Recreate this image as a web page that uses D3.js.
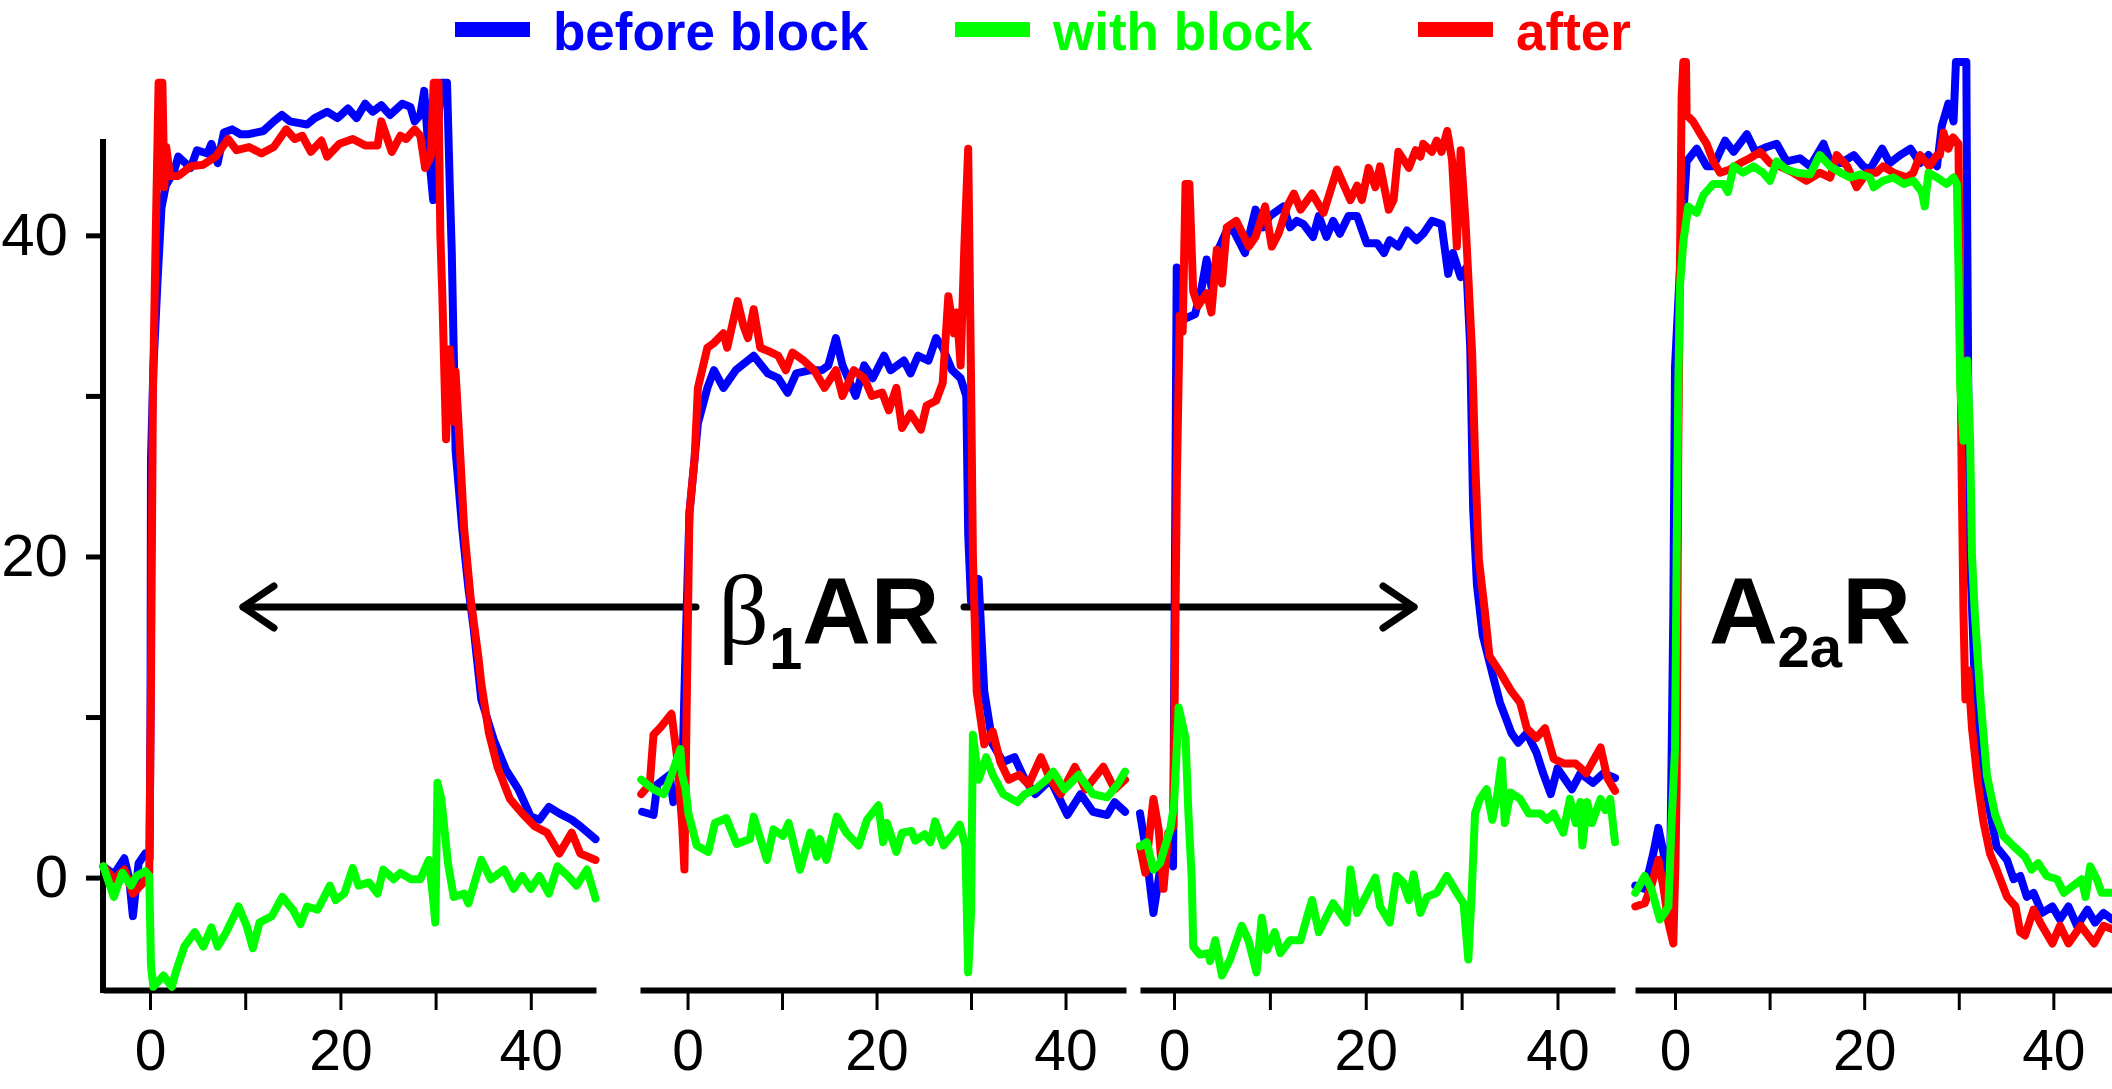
<!DOCTYPE html>
<html>
<head>
<meta charset="utf-8">
<script src="https://cdn.jsdelivr.net/npm/d3@7"></script>
<style>
  html, body { margin: 0; padding: 0; background: #ffffff; }
  svg { display: block; }
</style>
</head>
<body>
<script>
// ---------------- DATA ----------------
const seriesNames = ["before block", "with block", "after"];
const seriesColors = ["#0000ff", "#00ff00", "#ff0000"];
const xTickValues = [0, 10, 20, 30, 40];
const xTickLabels = [0, 20, 40];
const yTickValues = [0, 10, 20, 30, 40];
const yTickLabels = [0, 20, 40];
const receptorLabels = ["β1AR", "A2aR"];

// Panel 1 (β1AR)
const p1Blue = [[-4.9,0.7],[-3.8,0.2],[-2.7,1.2],[-2.2,0.0],[-1.8,-2.4],[-1.2,0.9],[-0.5,1.5],[-0.05,1.2],[0.05,10],[0.1,26],[0.35,31.7],[0.8,37.3],[1.2,41.7],[1.66,43.1],[2.53,44.0],[2.97,44.9],[4.27,44.2],[4.93,45.3],[6.02,45.1],[6.45,45.7],[7.1,44.5],[7.76,46.4],[8.63,46.6],[9.5,46.3],[10.37,46.3],[11.9,46.5],[13.0,47.1],[13.85,47.5],[14.7,47.1],[16.5,46.9],[17.3,47.3],[18.6,47.7],[19.7,47.3],[20.8,47.9],[21.7,47.3],[22.6,48.2],[23.4,47.7],[24.3,48.1],[25.2,47.5],[26.5,48.2],[27.35,48.0],[27.8,47.1],[28.4,47.5],[28.8,49.0],[29.3,45.0],[29.75,42.2],[30.2,46.5],[30.6,49.5],[31.2,49.5],[31.5,42.9],[31.7,38.9],[31.9,32.9],[32.1,26.6],[32.8,21.7],[33.45,18.0],[34.0,15.5],[34.8,11.1],[36.1,8.6],[37.4,6.7],[38.7,5.5],[40.0,3.8],[40.9,3.6],[41.9,4.4],[43.0,4.0],[44.3,3.6],[45.2,3.2],[46.8,2.4]];
const p1Red = [[-4.9,0.7],[-3.8,-0.1],[-2.7,0.5],[-1.8,-1.0],[-0.7,-0.3],[-0.08,0.3],[0.1,12],[0.3,30],[0.6,40],[0.9,49.5],[1.3,49.5],[1.5,43.0],[1.7,45.5],[2.1,43.7],[2.97,43.7],[4.3,44.3],[5.6,44.4],[6.9,44.9],[8.2,46.0],[9.1,45.3],[10.4,45.5],[11.7,45.1],[13.0,45.5],[14.3,46.6],[15.2,46.0],[16.0,46.2],[16.9,45.2],[18.0,45.9],[18.6,44.9],[19.9,45.7],[21.3,46.0],[22.6,45.6],[23.9,45.6],[24.3,47.1],[25.4,45.2],[26.3,46.2],[26.9,46.0],[27.8,46.6],[28.4,46.2],[28.9,44.2],[29.5,44.9],[29.8,49.5],[30.3,49.5],[30.5,40.0],[30.7,36.4],[31.1,27.3],[31.5,32.9],[31.9,28.4],[32.1,31.5],[32.6,26.2],[33.0,21.7],[33.7,17.3],[34.5,13.7],[34.8,12.1],[35.6,9.0],[36.5,6.9],[37.8,4.9],[39.1,4.0],[40.4,3.2],[41.7,2.8],[43.0,1.5],[44.3,2.8],[45.2,1.5],[46.8,1.1]];
const p1Green = [[-4.9,0.7],[-3.8,-1.2],[-2.9,0.3],[-2.0,-0.5],[-1.4,0.1],[-0.5,0.4],[-0.08,0.1],[0.1,-5.5],[0.35,-6.8],[1.4,-6.1],[2.3,-6.8],[2.7,-5.9],[3.6,-4.3],[4.7,-3.4],[5.6,-4.3],[6.45,-3.1],[7.1,-4.3],[8.0,-3.4],[9.3,-1.8],[10.15,-3.0],[10.8,-4.4],[11.5,-2.8],[12.8,-2.4],[13.9,-1.2],[15.0,-2.0],[15.8,-2.9],[16.5,-1.8],[17.6,-2.0],[18.9,-0.5],[19.5,-1.4],[20.4,-1.0],[21.3,0.6],[21.9,-0.5],[23.0,-0.3],[23.9,-1.0],[24.5,0.5],[25.6,-0.1],[26.3,0.3],[27.4,-0.1],[28.4,-0.1],[29.3,1.1],[29.75,-1.4],[29.97,-2.8],[30.2,5.9],[30.6,4.9],[31.3,0.9],[31.9,-1.2],[33.0,-1.0],[33.45,-1.6],[34.8,1.1],[35.8,-0.1],[37.2,0.5],[38.2,-0.7],[39.1,0.1],[40.0,-0.7],[40.9,0.1],[41.9,-1.0],[42.8,0.7],[43.9,0.1],[44.8,-0.5],[45.9,0.5],[46.8,-1.3]];

// Panel 2 (β1AR)
const p2Blue = [[-4.8,4.1],[-3.6,3.9],[-3.2,5.8],[-1.9,6.4],[-1.5,4.7],[-0.57,6.1],[-0.2,14.4],[0.2,22.7],[1.1,28.3],[2.1,30.5],[2.8,31.6],[3.8,30.5],[5.1,31.6],[7.0,32.5],[8.5,31.4],[9.6,31.1],[10.6,30.2],[11.5,31.4],[13.0,31.6],[14.2,31.6],[14.9,31.9],[15.7,33.6],[16.4,31.9],[17.8,30.0],[18.7,31.9],[19.6,31.1],[20.8,32.5],[21.5,31.6],[22.9,32.2],[23.6,31.4],[24.4,32.5],[25.5,32.2],[26.3,33.6],[27.0,33.0],[28.0,31.6],[28.9,31.1],[29.5,30.0],[29.7,21.4],[30.0,17.2],[30.8,18.6],[31.4,11.6],[32.3,8.3],[33.4,7.2],[34.6,7.5],[35.7,6.1],[36.8,5.2],[38.4,6.1],[40.2,3.9],[41.6,5.2],[42.9,4.1],[44.4,3.9],[45.2,4.7],[46.3,4.1]];
const p2Red = [[-4.9,5.2],[-4.0,5.8],[-3.6,8.9],[-2.8,9.4],[-1.7,10.2],[-1.1,7.5],[-0.57,3.3],[-0.33,0.5],[0.0,14.4],[0.2,22.7],[0.75,26.1],[1.1,30.5],[2.1,33.0],[2.8,33.3],[3.8,33.9],[4.2,33.0],[5.3,35.9],[5.9,34.4],[6.4,33.6],[7.0,35.4],[7.7,33.0],[8.9,32.7],[9.6,32.5],[10.4,31.6],[11.1,32.7],[12.3,32.2],[13.4,31.6],[14.5,30.5],[15.7,31.6],[16.4,30.0],[17.6,31.6],[18.7,31.1],[19.5,30.0],[20.6,30.2],[21.3,29.1],[22.1,30.5],[22.7,28.0],[23.6,28.9],[24.7,27.9],[25.3,29.4],[26.3,29.7],[27.0,30.8],[27.6,36.2],[28.2,33.9],[28.5,35.2],[28.9,31.9],[29.3,39.4],[29.7,45.4],[30.0,31.1],[30.2,20.0],[30.6,11.6],[31.4,8.3],[32.3,9.1],[33.1,7.2],[34.0,6.1],[35.1,6.4],[36.1,5.8],[37.4,7.5],[38.4,6.1],[39.5,5.2],[41.0,6.9],[42.1,5.5],[44.0,6.9],[45.2,5.5],[46.3,6.1]];
const p2Green = [[-4.9,6.1],[-3.6,5.5],[-2.5,5.2],[-1.7,6.4],[-0.76,8.0],[-0.57,6.4],[-0.2,5.5],[0.09,4.0],[0.97,2.0],[2.2,1.6],[2.9,3.4],[4.1,3.7],[5.2,2.1],[6.6,2.4],[7.0,3.8],[8.4,1.1],[9.1,3.0],[10.1,2.6],[10.7,3.4],[11.9,0.5],[13.0,2.8],[13.7,1.3],[14.0,2.4],[14.7,1.1],[15.8,3.8],[16.8,2.8],[18.1,2.0],[19.0,3.6],[20.2,4.5],[20.7,2.2],[21.1,3.4],[22.1,1.6],[22.7,2.8],[23.7,2.9],[24.1,2.3],[25.1,2.7],[25.7,2.2],[26.2,3.5],[27.1,2.0],[28.1,2.7],[28.8,3.3],[29.4,2.0],[29.7,-5.9],[30.0,-2.2],[30.2,8.9],[30.8,6.1],[31.6,7.5],[32.3,6.4],[33.4,5.2],[34.9,4.7],[35.7,5.2],[36.8,5.5],[38.0,6.1],[38.7,6.6],[39.9,5.5],[41.4,6.4],[42.9,5.2],[44.4,5.0],[45.5,5.8],[46.3,6.6]];

// Panel 3 (β1AR)
const p3Blue = [[-3.55,4.0],[-3.0,2.0],[-2.15,-2.2],[-1.6,-0.1],[-1.1,2.0],[-0.4,1.1],[-0.1,0.7],[0.1,20],[0.28,38.0],[0.63,34.7],[1.5,34.9],[2.2,35.1],[2.9,36.8],[3.4,38.5],[3.9,36.8],[4.6,39.1],[5.5,40.3],[6.2,40.3],[7.4,38.9],[8.5,41.6],[9.3,40.5],[10.0,41.2],[11.4,41.8],[12.1,40.5],[12.8,40.9],[13.5,40.7],[14.5,39.9],[15.1,41.2],[15.9,39.9],[16.6,40.9],[17.3,40.1],[18.2,41.2],[19.1,41.2],[20.1,39.5],[21.2,39.5],[21.9,38.9],[22.5,39.7],[23.4,39.3],[24.3,40.3],[25.3,39.7],[26.0,40.1],[26.9,40.9],[27.9,40.7],[28.6,37.6],[29.1,38.9],[29.9,37.4],[30.5,38.0],[30.9,33.0],[31.2,23.0],[31.6,18.2],[32.2,15.1],[33.3,12.5],[34.0,10.9],[35.2,9.0],[35.9,8.4],[36.8,9.0],[37.8,7.8],[38.5,6.5],[39.3,5.2],[40.0,6.8],[41.5,5.5],[42.4,6.5],[43.7,5.9],[44.8,6.5],[46.0,6.2]];
const p3Red = [[-3.55,1.95],[-3.0,0.3],[-2.15,4.9],[-1.6,3.0],[-1.1,-0.7],[-0.6,2.8],[-0.07,3.2],[0.3,25],[0.6,35],[0.9,34],[1.2,43.2],[1.6,43.2],[2.0,36.5],[2.5,35.6],[3.4,36.4],[3.9,35.2],[4.46,39.1],[5.0,37.0],[5.5,40.5],[6.5,40.9],[7.8,39.3],[8.5,39.9],[9.5,41.8],[10.2,39.3],[10.9,40.1],[11.8,41.8],[12.5,42.6],[13.2,41.6],[14.4,42.6],[15.6,41.4],[17.0,44.1],[18.4,42.2],[19.1,43.1],[19.6,42.2],[20.3,44.2],[21.0,43.0],[21.5,44.3],[22.4,41.6],[22.9,42.2],[23.4,45.2],[24.5,44.2],[25.2,45.3],[25.7,44.9],[26.0,45.7],[26.9,45.2],[27.4,45.9],[27.9,45.2],[28.5,46.5],[29.0,44.7],[29.5,39.3],[29.9,45.3],[30.4,40.9],[30.7,37.4],[31.1,32.6],[31.4,26.2],[31.8,19.8],[32.4,16.7],[32.9,13.8],[34.0,12.8],[35.2,11.6],[36.1,10.9],[36.8,9.3],[37.8,8.7],[38.7,9.3],[39.6,7.4],[40.7,7.1],[41.9,7.1],[43.0,6.5],[44.5,8.1],[45.2,6.2],[46.0,5.4]];
const p3Green = [[-3.55,1.95],[-2.85,2.2],[-2.15,0.5],[-1.46,0.9],[-0.4,3.0],[0.0,4.5],[0.28,8],[0.48,10.6],[1.2,8.7],[1.5,4.0],[1.85,-0.1],[2.0,-4.3],[2.7,-4.8],[3.6,-4.7],[3.76,-5.2],[4.3,-3.9],[5.0,-6.1],[5.85,-5.1],[7.06,-3.0],[7.76,-3.9],[8.6,-5.9],[9.15,-2.5],[9.7,-4.5],[10.5,-3.4],[11.1,-4.7],[12.1,-3.9],[13.2,-3.9],[13.9,-2.4],[14.4,-1.4],[15.1,-3.4],[16.6,-1.6],[18.0,-2.8],[18.4,0.5],[19.1,-2.2],[19.8,-1.4],[21.0,0.0],[21.5,-1.8],[22.5,-2.8],[23.2,0.1],[23.9,-0.3],[24.5,-1.4],[25.0,0.2],[25.7,-2.2],[26.4,-1.2],[27.4,-0.95],[28.46,0.1],[29.5,-0.95],[30.2,-1.6],[30.7,-5.1],[31.07,-0.7],[31.4,4.0],[31.9,4.9],[32.6,5.5],[33.2,3.6],[33.7,5.1],[34.2,7.3],[34.5,3.4],[35.1,5.3],[36.1,4.9],[37.0,4.0],[38.2,4.0],[38.9,3.6],[39.6,4.0],[40.6,2.8],[41.3,4.9],[41.9,3.4],[42.4,4.7],[42.6,2.0],[43.1,4.7],[43.6,3.4],[44.5,4.9],[45.0,4.2],[45.5,4.9],[46.0,2.2]];

// Panel 4 (A2aR)
const p4Blue = [[-4.2,-0.5],[-3.2,-0.7],[-2.3,1.5],[-1.76,3.1],[-1.2,1.5],[-0.9,-0.7],[-0.5,0.9],[-0.36,7.5],[-0.18,16.4],[0.0,31.8],[0.52,37.9],[1.23,44.6],[2.29,45.4],[3.35,44.3],[4.05,44.3],[5.3,45.9],[6.2,45.2],[7.6,46.3],[8.5,45.2],[9.7,45.5],[10.75,45.7],[11.8,44.6],[13.2,44.8],[14.3,44.3],[15.7,45.7],[16.4,44.6],[17.5,44.5],[18.9,45.0],[19.9,44.3],[20.6,44.1],[21.9,45.4],[22.7,44.5],[23.8,45.0],[24.9,45.4],[25.9,44.5],[26.8,45.0],[27.7,44.3],[28.2,46.8],[28.9,48.2],[29.45,47.1],[29.7,50.8],[30.8,50.8],[30.9,39.6],[31.0,30.7],[31.2,20.0],[31.7,12.0],[32.7,6.0],[33.5,3.5],[34.0,1.9],[35.1,1.1],[35.8,-0.1],[36.5,0.1],[37.2,-1.2],[37.9,-0.95],[38.8,-2.2],[39.9,-1.8],[40.7,-2.6],[41.6,-1.8],[42.5,-3.0],[43.6,-2.0],[44.4,-2.8],[45.3,-2.2],[46.2,-2.6]];
const p4Red = [[-4.2,-1.8],[-3.2,-1.6],[-2.5,-0.5],[-1.76,1.1],[-1.2,-0.7],[-0.7,-2.8],[-0.18,-4.1],[0.05,1.0],[0.17,5.7],[0.35,27.2],[0.52,37.9],[0.7,48.6],[0.88,50.8],[1.16,50.8],[1.23,47.5],[1.9,47.1],[2.6,46.4],[3.35,45.7],[4.05,44.6],[4.76,43.9],[5.8,44.1],[6.9,44.5],[7.9,44.8],[9.0,45.2],[10.05,44.5],[11.1,44.3],[12.5,43.9],[13.9,43.4],[15.3,43.9],[16.4,43.6],[17.1,45.0],[18.2,44.3],[19.2,43.0],[20.3,43.9],[21.3,43.9],[22.0,44.3],[23.1,43.9],[24.5,43.6],[25.2,43.9],[25.9,45.0],[26.9,44.3],[27.7,45.0],[28.0,45.0],[28.4,46.4],[28.9,45.4],[29.4,46.1],[29.97,45.7],[30.15,34.3],[30.3,25.4],[30.5,16.4],[30.7,11.1],[31.0,12.9],[31.4,9.3],[32.0,6.0],[32.6,3.5],[33.3,1.5],[34.0,0.5],[35.1,-1.2],[36.0,-1.8],[36.5,-3.4],[37.0,-3.6],[37.9,-2.0],[38.8,-3.0],[39.9,-4.1],[40.7,-3.0],[41.6,-4.1],[42.9,-3.0],[44.3,-4.1],[45.3,-3.0],[46.2,-3.2]];
const p4Green = [[-4.2,-0.95],[-3.2,0.1],[-2.5,-0.7],[-1.6,-2.6],[-1.1,-2.2],[-0.7,-1.8],[-0.35,3.6],[0.0,8],[0.17,20.0],[0.35,30.7],[0.52,36.8],[0.88,39.6],[1.4,41.8],[2.3,41.4],[3.0,42.5],[4.05,43.2],[5.1,43.2],[5.6,42.7],[6.2,44.3],[7.2,43.9],[8.3,44.3],[9.3,43.9],[10.05,43.4],[10.75,44.6],[11.8,44.1],[12.9,43.9],[14.3,43.8],[15.3,45.0],[16.4,44.3],[17.5,43.9],[18.5,43.6],[19.6,43.8],[20.6,43.6],[21.0,43.0],[22.0,43.4],[23.1,43.6],[24.2,43.2],[25.2,43.4],[26.1,42.7],[26.4,41.8],[26.8,43.9],[27.7,43.6],[28.7,43.2],[29.45,43.6],[29.8,43.2],[29.97,37.9],[30.15,30.7],[30.5,27.2],[30.9,32.2],[31.2,27.2],[31.4,20.0],[31.7,16.4],[32.3,11.1],[32.97,6.4],[33.85,3.9],[34.7,2.6],[35.8,1.95],[37.0,1.3],[37.7,0.5],[38.4,0.9],[39.3,0.1],[40.4,-0.1],[41.1,-0.95],[42.1,-0.5],[43.0,-0.1],[43.4,-1.2],[43.9,0.7],[44.6,-0.1],[45.1,-0.95],[46.2,-0.95]];

// time-axis extents per panel (s)
const panelDomains = [[-4.94, 46.85], [-5.03, 46.4], [-3.55, 46.0], [-4.23, 46.2]];
const yDomain = [-7, 46];

// ---------------- LAYOUT ----------------
const W = 2112, H = 1089;
const panelRanges = [[103, 596], [640, 1126], [1140, 1615], [1635, 2112]];
const axisY = 990, axisTop = 139;
const lineWidth = 8;
const fontMain = "'Liberation Sans', Arial, Helvetica, sans-serif";

const panels = [
  { blue: p1Blue, green: p1Green, red: p1Red },
  { blue: p2Blue, green: p2Green, red: p2Red },
  { blue: p3Blue, green: p3Green, red: p3Red },
  { blue: p4Blue, green: p4Green, red: p4Red }
];

const svg = d3.select("body").append("svg")
  .attr("width", W).attr("height", H)
  .attr("viewBox", `0 0 ${W} ${H}`)
  .style("background", "#fff");

const y = d3.scaleLinear().domain(yDomain).range([axisY, axisTop]);

// ---- Arrows (under the traces) ----
const arrowG = svg.append("g")
  .attr("fill", "none").attr("stroke", "#000")
  .attr("stroke-width", 7).attr("stroke-linecap", "round").attr("stroke-linejoin", "round");
const arrowY = 607;
arrowG.append("path").attr("d", `M696,${arrowY}H243`);
arrowG.append("path").attr("d", `M274,${arrowY - 21}L243,${arrowY}L274,${arrowY + 21}`);
arrowG.append("path").attr("d", `M964,${arrowY}H1414`);
arrowG.append("path").attr("d", `M1383,${arrowY - 21}L1414,${arrowY}L1383,${arrowY + 21}`);

// ---- Panels ----
panels.forEach((p, i) => {
  const x = d3.scaleLinear().domain(panelDomains[i]).range(panelRanges[i]);
  const g = svg.append("g");

  const xAxis = d3.axisBottom(x)
    .tickValues(xTickValues)
    .tickFormat(d => xTickLabels.includes(d) ? d : "")
    .tickSizeInner(20).tickSizeOuter(0).tickPadding(20);
  const ax = g.append("g").attr("transform", `translate(0,${axisY})`).call(xAxis);
  ax.select(".domain").attr("stroke", "#000").attr("stroke-width", 6);
  ax.selectAll(".tick line").attr("stroke", "#000").attr("stroke-width", 3);
  ax.selectAll(".tick text").attr("fill", "#000")
    .attr("font-family", fontMain).attr("font-size", 57);

  if (i === 0) {
    const yAxis = d3.axisLeft(y)
      .tickValues(yTickValues)
      .tickFormat(d => yTickLabels.includes(d) ? d : "")
      .tickSizeInner(17).tickSizeOuter(0).tickPadding(18);
    const ay = g.append("g").attr("transform", `translate(${panelRanges[0][0]},0)`).call(yAxis);
    ay.select(".domain").attr("stroke", "#000").attr("stroke-width", 6)
      .attr("d", `M0,${axisTop}V${axisY + 3}`);
    ay.selectAll(".tick line").attr("stroke", "#000").attr("stroke-width", 5);
    ay.selectAll(".tick text").attr("fill", "#000")
      .attr("font-family", fontMain).attr("font-size", 60);
  }

  const line = d3.line().x(d => x(d[0])).y(d => y(d[1]));
  [["blue", seriesColors[0]], ["red", seriesColors[2]], ["green", seriesColors[1]]].forEach(([k, c]) => {
    g.append("path")
      .datum(p[k])
      .attr("d", line)
      .attr("fill", "none")
      .attr("stroke", c)
      .attr("stroke-width", lineWidth)
      .attr("stroke-linejoin", "round")
      .attr("stroke-linecap", "round");
  });
});

// ---- Legend ----
const legendX = [455, 955, 1418];
const legend = svg.append("g");
seriesNames.forEach((name, i) => {
  legend.append("rect")
    .attr("x", legendX[i]).attr("y", 22)
    .attr("width", 75).attr("height", 15)
    .attr("fill", seriesColors[i]);
  legend.append("text")
    .attr("x", legendX[i] + 98).attr("y", 50)
    .attr("font-family", fontMain).attr("font-weight", "bold")
    .attr("font-size", 53).attr("fill", seriesColors[i])
    .text(name);
});

// ---- Receptor labels ----
const b = svg.append("text")
  .attr("x", 718).attr("y", 644)
  .attr("font-family", fontMain).attr("font-weight", "bold")
  .attr("font-size", 95).attr("fill", "#000");
b.append("tspan").attr("font-family", "'Liberation Serif', 'Times New Roman', serif")
  .attr("font-weight", "normal").attr("font-size", 100).text(receptorLabels[0].charAt(0));
b.append("tspan").attr("font-size", 60).attr("dy", 25).text(receptorLabels[0].charAt(1));
b.append("tspan").attr("dy", -25).text(receptorLabels[0].slice(2));

const a = svg.append("text")
  .attr("x", 1709).attr("y", 644)
  .attr("font-family", fontMain).attr("font-weight", "bold")
  .attr("font-size", 95).attr("fill", "#000");
a.append("tspan").text(receptorLabels[1].charAt(0));
a.append("tspan").attr("font-size", 58).attr("dy", 23).text(receptorLabels[1].slice(1, 3));
a.append("tspan").attr("dy", -23).text(receptorLabels[1].slice(3));
</script>
</body>
</html>
